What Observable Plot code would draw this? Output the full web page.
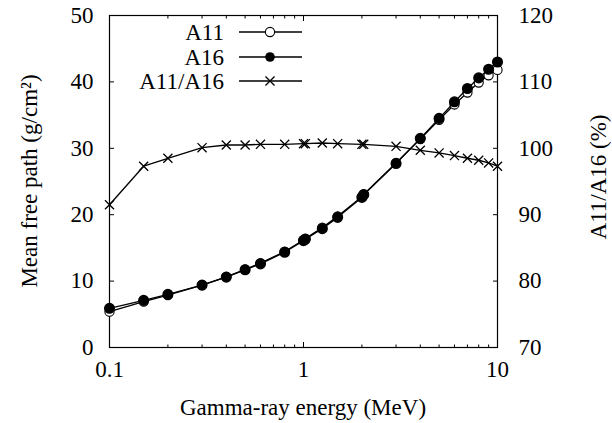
<!DOCTYPE html>
<html>
<head>
<meta charset="utf-8">
<script src="https://cdn.jsdelivr.net/npm/d3@7"></script>
<script src="https://cdn.jsdelivr.net/npm/@observablehq/plot@0.6"></script>
<style>
  html, body { margin: 0; padding: 0; background: #fff; }
</style>
</head>
<body>
<div id="chart"></div>
<script>
// Gamma-ray energy (MeV)
const energy = [0.1, 0.15, 0.2, 0.3, 0.4, 0.5, 0.6, 0.8, 1.0, 1.022, 1.25, 1.5, 2.0, 2.044, 3, 4, 5, 6, 7, 8, 9, 10];
// Mean free path (g/cm2)
const a11 = [5.4, 6.9, 7.9, 9.4, 10.65, 11.75, 12.7, 14.45, 16.2, 16.4, 18.05, 19.75, 22.7, 23.1, 27.8, 31.4, 34.3, 36.6, 38.4, 39.9, 41.0, 41.8];
const a16 = [5.9, 7.1, 8.0, 9.4, 10.6, 11.7, 12.6, 14.35, 16.1, 16.3, 17.9, 19.6, 22.6, 23.0, 27.7, 31.5, 34.5, 37.0, 39.0, 40.6, 41.9, 43.0];
// A11/A16 (%)
const ratio = [91.5, 97.3, 98.5, 100.1, 100.5, 100.5, 100.6, 100.6, 100.7, 100.7, 100.8, 100.7, 100.6, 100.6, 100.3, 99.7, 99.3, 98.9, 98.5, 98.2, 97.8, 97.3];

const xMajor = [0.1, 1, 10];
const xMinor = [0.2, 0.3, 0.4, 0.5, 0.6, 0.7, 0.8, 0.9, 2, 3, 4, 5, 6, 7, 8, 9];
const yLeftTicks = [0, 10, 20, 30, 40, 50];
const yRightTicks = [70, 80, 90, 100, 110, 120];
const rightOffset = 70; // right axis 70..120 maps onto left 0..50

const rows = energy.map((e, i) => ({e, a11: a11[i], a16: a16[i], ratio: ratio[i]}));

const W = 612, H = 423;
const font = 23;
const FAMILY = '"Liberation Serif", "Times New Roman", Tinos, "DejaVu Serif", "Noto Serif", serif';

const svg = Plot.plot({
  width: W, height: H,
  marginLeft: 109, marginRight: 115, marginTop: 15, marginBottom: 76,
  style: {fontFamily: FAMILY, fontSize: font + "px", background: "white", color: "black"},
  x: {type: "log", domain: [0.1, 10]},
  y: {domain: [0, 50]},
  marks: [
    Plot.axisX(xMajor, {anchor: "bottom", tickSize: -5, tickPadding: 18, tickFormat: d => String(d), label: null, fontSize: font}),
    Plot.axisX(xMinor, {anchor: "bottom", tickSize: -2.5, tickFormat: () => "", label: null}),
    Plot.axisX(xMajor, {anchor: "top", tickSize: -5, tickFormat: () => "", label: null}),
    Plot.axisX(xMinor, {anchor: "top", tickSize: -2.5, tickFormat: () => "", label: null}),
    Plot.axisY(yLeftTicks, {anchor: "left", tickSize: -5, tickPadding: 21, tickFormat: d => String(d), label: null, fontSize: font}),
    Plot.axisY(yRightTicks.map(v => v - rightOffset), {anchor: "right", tickSize: -5, tickPadding: 26, tickFormat: d => String(d + rightOffset), label: null, fontSize: font}),
    Plot.frame({stroke: "black", strokeWidth: 1.2}),
    // A11
    Plot.line(rows, {x: "e", y: "a11", stroke: "black", strokeWidth: 1.3}),
    Plot.dot(rows, {x: "e", y: "a11", r: 4.6, fill: "white", stroke: "black", strokeWidth: 1.1}),
    // A16
    Plot.line(rows, {x: "e", y: "a16", stroke: "black", strokeWidth: 1.3}),
    Plot.dot(rows, {x: "e", y: "a16", r: 4.8, fill: "black", stroke: "black"}),
    // A11/A16 on right axis
    Plot.line(rows, {x: "e", y: d => d.ratio - rightOffset, stroke: "black", strokeWidth: 1.3}),
    Plot.dot(rows, {x: "e", y: d => d.ratio - rightOffset, symbol: "times", r: 4.2, stroke: "black", strokeWidth: 1.3})
  ]
});

const s = d3.select(svg);
s.attr("font-family", FAMILY);
// axis titles
s.append("text")
  .attr("transform", "translate(37,181) rotate(-90)")
  .attr("text-anchor", "middle")
  .attr("font-size", font)
  .attr("fill", "black")
  .text("Mean free path (g/cm²)");
s.append("text")
  .attr("transform", "translate(598,177) rotate(-90)")
  .attr("text-anchor", "middle")
  .attr("dy", "0.35em")
  .attr("font-size", font)
  .attr("fill", "black")
  .text("A11/A16 (%)");
s.append("text")
  .attr("x", 303).attr("y", 415)
  .attr("text-anchor", "middle")
  .attr("font-size", font)
  .attr("fill", "black")
  .text("Gamma-ray energy (MeV)");

// legend
const legend = [
  {label: "A11", kind: "open", y: 32},
  {label: "A16", kind: "filled", y: 57},
  {label: "A11/A16", kind: "cross", y: 81}
];
const lg = s.append("g");
legend.forEach(item => {
  lg.append("text").attr("x", 224).attr("y", item.y).attr("dy", "0.35em")
    .attr("text-anchor", "end").attr("font-size", font).attr("fill", "black").text(item.label);
  lg.append("line").attr("x1", 239).attr("x2", 302).attr("y1", item.y).attr("y2", item.y)
    .attr("stroke", "black").attr("stroke-width", 1.3);
  if (item.kind === "open") {
    lg.append("circle").attr("cx", 270).attr("cy", item.y).attr("r", 4.6).attr("fill", "white").attr("stroke", "black").attr("stroke-width", 1.1);
  } else if (item.kind === "filled") {
    lg.append("circle").attr("cx", 270).attr("cy", item.y).attr("r", 4.8).attr("fill", "black");
  } else {
    lg.append("path").attr("transform", `translate(270,${item.y})`)
      .attr("d", d3.symbol(d3.symbolTimes, Math.PI * 4.2 * 4.2)())
      .attr("fill", "none").attr("stroke", "black").attr("stroke-width", 1.3);
  }
});
s.selectAll("text").style("font-family", FAMILY);

document.getElementById("chart").appendChild(svg);
</script>
</body>
</html>
